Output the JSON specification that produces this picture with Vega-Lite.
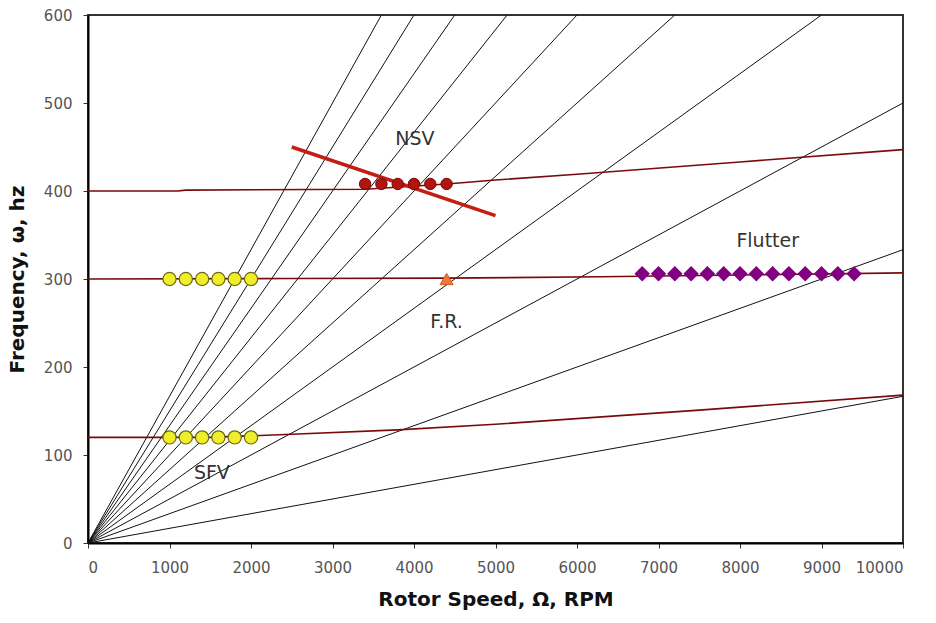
{
  "$schema": "https://vega.github.io/schema/vega-lite/v6.json",
  "width": 815,
  "height": 528,
  "autosize": "none",
  "padding": {"left": 88, "top": 15, "right": 33, "bottom": 80},
  "background": "white",
  "config": {
    "view": {"stroke": "#333333", "strokeWidth": 2},
    "axis": {
      "grid": false,
      "domainColor": "#000000",
      "domainWidth": 2,
      "tickColor": "#333333",
      "tickSize": 5,
      "labelFont": "DejaVu Sans",
      "labelFontSize": 15,
      "labelColor": "#555555",
      "titleFont": "DejaVu Sans",
      "titleFontSize": 20,
      "titleFontWeight": "bold",
      "titleColor": "#111111"
    }
  },
  "datasets": {
    "orders": [
      {"order": "1", "rpm": 0, "hz": 0}, {"order": "1", "rpm": 10000, "hz": 166.7},
      {"order": "2", "rpm": 0, "hz": 0}, {"order": "2", "rpm": 10000, "hz": 333.3},
      {"order": "3", "rpm": 0, "hz": 0}, {"order": "3", "rpm": 10000, "hz": 500},
      {"order": "4", "rpm": 0, "hz": 0}, {"order": "4", "rpm": 9000, "hz": 600},
      {"order": "5", "rpm": 0, "hz": 0}, {"order": "5", "rpm": 7200, "hz": 600},
      {"order": "6", "rpm": 0, "hz": 0}, {"order": "6", "rpm": 6000, "hz": 600},
      {"order": "7", "rpm": 0, "hz": 0}, {"order": "7", "rpm": 5143, "hz": 600},
      {"order": "8", "rpm": 0, "hz": 0}, {"order": "8", "rpm": 4500, "hz": 600},
      {"order": "9", "rpm": 0, "hz": 0}, {"order": "9", "rpm": 4000, "hz": 600},
      {"order": "10", "rpm": 0, "hz": 0}, {"order": "10", "rpm": 3600, "hz": 600}
    ],
    "modes": [
      {"mode": "1", "rpm": 0, "hz": 120}, {"mode": "1", "rpm": 1500, "hz": 120},
      {"mode": "1", "rpm": 2500, "hz": 123.5}, {"mode": "1", "rpm": 3800, "hz": 128.5},
      {"mode": "1", "rpm": 5000, "hz": 135}, {"mode": "1", "rpm": 7500, "hz": 151},
      {"mode": "1", "rpm": 10000, "hz": 168},
      {"mode": "2", "rpm": 0, "hz": 300}, {"mode": "2", "rpm": 2500, "hz": 300.5},
      {"mode": "2", "rpm": 4400, "hz": 301}, {"mode": "2", "rpm": 6300, "hz": 302.5},
      {"mode": "2", "rpm": 8000, "hz": 304.5}, {"mode": "2", "rpm": 10000, "hz": 307},
      {"mode": "3", "rpm": 0, "hz": 400}, {"mode": "3", "rpm": 1100, "hz": 400},
      {"mode": "3", "rpm": 1200, "hz": 401}, {"mode": "3", "rpm": 3400, "hz": 402},
      {"mode": "3", "rpm": 4400, "hz": 408}, {"mode": "3", "rpm": 5000, "hz": 412.5},
      {"mode": "3", "rpm": 6000, "hz": 419}, {"mode": "3", "rpm": 8000, "hz": 433},
      {"mode": "3", "rpm": 10000, "hz": 447}
    ],
    "nsv": [
      {"rpm": 2500, "hz": 450},
      {"rpm": 5000, "hz": 372}
    ],
    "points": [
      {"group": "SFV", "rpm": 1000, "hz": 300}, {"group": "SFV", "rpm": 1200, "hz": 300},
      {"group": "SFV", "rpm": 1400, "hz": 300}, {"group": "SFV", "rpm": 1600, "hz": 300},
      {"group": "SFV", "rpm": 1800, "hz": 300}, {"group": "SFV", "rpm": 2000, "hz": 300},
      {"group": "SFV", "rpm": 1000, "hz": 120}, {"group": "SFV", "rpm": 1200, "hz": 120},
      {"group": "SFV", "rpm": 1400, "hz": 120}, {"group": "SFV", "rpm": 1600, "hz": 120},
      {"group": "SFV", "rpm": 1800, "hz": 120}, {"group": "SFV", "rpm": 2000, "hz": 120},
      {"group": "NSV", "rpm": 3400, "hz": 408}, {"group": "NSV", "rpm": 3600, "hz": 408},
      {"group": "NSV", "rpm": 3800, "hz": 408}, {"group": "NSV", "rpm": 4000, "hz": 408},
      {"group": "NSV", "rpm": 4200, "hz": 408}, {"group": "NSV", "rpm": 4400, "hz": 408},
      {"group": "F.R.", "rpm": 4400, "hz": 300},
      {"group": "Flutter", "rpm": 6800, "hz": 306}, {"group": "Flutter", "rpm": 7000, "hz": 306},
      {"group": "Flutter", "rpm": 7200, "hz": 306}, {"group": "Flutter", "rpm": 7400, "hz": 306},
      {"group": "Flutter", "rpm": 7600, "hz": 306}, {"group": "Flutter", "rpm": 7800, "hz": 306},
      {"group": "Flutter", "rpm": 8000, "hz": 306}, {"group": "Flutter", "rpm": 8200, "hz": 306},
      {"group": "Flutter", "rpm": 8400, "hz": 306}, {"group": "Flutter", "rpm": 8600, "hz": 306},
      {"group": "Flutter", "rpm": 8800, "hz": 306}, {"group": "Flutter", "rpm": 9000, "hz": 306},
      {"group": "Flutter", "rpm": 9200, "hz": 306}, {"group": "Flutter", "rpm": 9400, "hz": 306}
    ],
    "labels": [
      {"text": "NSV", "rpm": 4010, "hz": 459},
      {"text": "Flutter", "rpm": 8340, "hz": 343},
      {"text": "F.R.", "rpm": 4400, "hz": 251},
      {"text": "SFV", "rpm": 1520, "hz": 79}
    ]
  },
  "encoding": {
    "x": {
      "field": "rpm", "type": "quantitative",
      "scale": {"domain": [0, 10000], "nice": false},
      "axis": {
        "title": "Rotor Speed, Ω, RPM",
        "values": [0, 1000, 2000, 3000, 4000, 5000, 6000, 7000, 8000, 9000, 10000],
        "format": "d",
        "labelPadding": 12,
        "titlePadding": 14
      }
    },
    "y": {
      "field": "hz", "type": "quantitative",
      "scale": {"domain": [0, 600], "nice": false},
      "axis": {
        "title": "Frequency, ω, hz",
        "values": [0, 100, 200, 300, 400, 500, 600],
        "labelPadding": 11,
        "titlePadding": 16
      }
    }
  },
  "layer": [
    {
      "data": {"name": "orders"},
      "mark": {"type": "line", "color": "#111111", "strokeWidth": 1},
      "encoding": {"detail": {"field": "order", "type": "nominal"}}
    },
    {
      "data": {"name": "modes"},
      "mark": {"type": "line", "color": "#7a0a0a", "strokeWidth": 1.6},
      "encoding": {"detail": {"field": "mode", "type": "nominal"}}
    },
    {
      "data": {"name": "nsv"},
      "mark": {"type": "line", "color": "#c41e14", "strokeWidth": 3.5},
      "encoding": {}
    },
    {
      "data": {"name": "points"},
      "transform": [{"filter": "datum.group === 'SFV'"}],
      "mark": {"type": "point", "shape": "circle", "filled": true, "size": 175, "color": "#eeee2a", "stroke": "#6b6b10", "strokeWidth": 1.2, "opacity": 1},
      "encoding": {}
    },
    {
      "data": {"name": "points"},
      "transform": [{"filter": "datum.group === 'NSV'"}],
      "mark": {"type": "point", "shape": "circle", "filled": true, "size": 130, "color": "#b01510", "stroke": "#7a0505", "strokeWidth": 1, "opacity": 1},
      "encoding": {}
    },
    {
      "data": {"name": "points"},
      "transform": [{"filter": "datum.group === 'F.R.'"}],
      "mark": {"type": "point", "shape": "triangle-up", "filled": true, "size": 170, "color": "#f07838", "stroke": "#d05a20", "strokeWidth": 1, "opacity": 1},
      "encoding": {}
    },
    {
      "data": {"name": "points"},
      "transform": [{"filter": "datum.group === 'Flutter'"}],
      "mark": {"type": "point", "shape": "diamond", "filled": true, "size": 240, "color": "#800080", "opacity": 1},
      "encoding": {}
    },
    {
      "data": {"name": "labels"},
      "mark": {"type": "text", "font": "DejaVu Sans", "fontSize": 19, "color": "#333333", "align": "center", "baseline": "middle"},
      "encoding": {"text": {"field": "text", "type": "nominal"}}
    }
  ]
}
